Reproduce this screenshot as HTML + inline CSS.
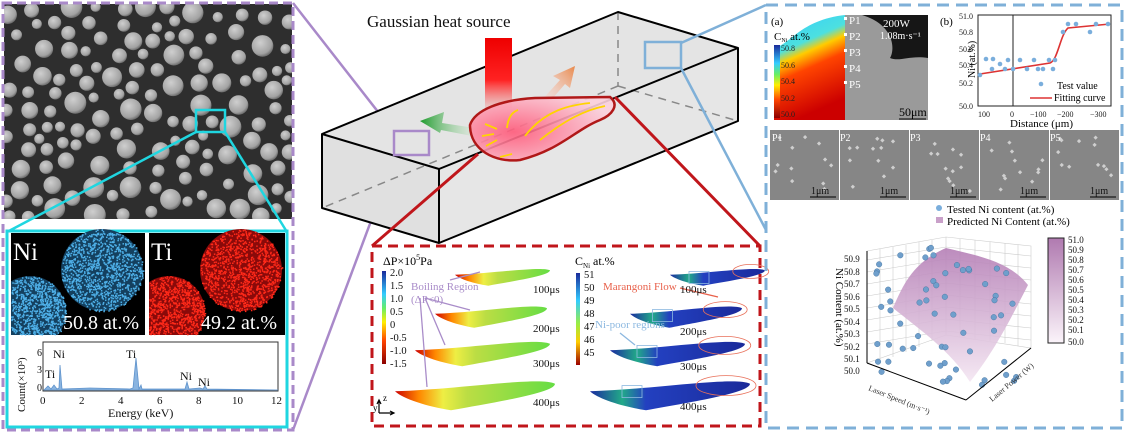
<!DOCTYPE html>
<html><head><meta charset="utf-8"><style>
html,body{margin:0;padding:0;background:#fff;width:1126px;height:433px;overflow:hidden}
svg text{font-family:"Liberation Serif",serif}
</style></head><body>
<svg id="s" width="1126" height="433" viewBox="0 0 1126 433" xmlns="http://www.w3.org/2000/svg">
<defs>
<radialGradient id="sph" cx="40%" cy="35%" r="65%"><stop offset="0" stop-color="#cfcfcf"/><stop offset="0.8" stop-color="#a2a2a2"/><stop offset="1" stop-color="#707070"/></radialGradient>
<linearGradient id="beam" x1="0" y1="0" x2="0" y2="1"><stop offset="0" stop-color="#e00"/><stop offset="0.6" stop-color="#f22"/><stop offset="1" stop-color="#f66" stop-opacity="0.2"/></linearGradient>
<radialGradient id="pool" cx="30%" cy="55%" r="70%"><stop offset="0" stop-color="#ff5a7a"/><stop offset="1" stop-color="#fbd0dc"/></radialGradient>
<linearGradient id="ga" x1="1" y1="0" x2="0" y2="0"><stop offset="0" stop-color="#cfe8cf" stop-opacity="0.3"/><stop offset="1" stop-color="#1c9a2a"/></linearGradient>
<linearGradient id="oa" x1="0" y1="1" x2="1" y2="0"><stop offset="0" stop-color="#fdd" stop-opacity="0.2"/><stop offset="1" stop-color="#e8884a"/></linearGradient>
<linearGradient id="jet" x1="0" y1="1" x2="0" y2="0"><stop offset="0" stop-color="#8b0000"/><stop offset="0.25" stop-color="#f40"/><stop offset="0.45" stop-color="#fe0"/><stop offset="0.6" stop-color="#6e6"/><stop offset="0.75" stop-color="#3cf"/><stop offset="1" stop-color="#1a2a9a"/></linearGradient>
<linearGradient id="jet2" x1="0" y1="0" x2="0" y2="1"><stop offset="0" stop-color="#1a2a9a"/><stop offset="0.3" stop-color="#3cf"/><stop offset="0.55" stop-color="#9e4"/><stop offset="0.75" stop-color="#fc0"/><stop offset="1" stop-color="#9b0000"/></linearGradient>
<linearGradient id="simL" x1="0" y1="0" x2="1" y2="0"><stop offset="0" stop-color="#c00"/><stop offset="0.15" stop-color="#f80"/><stop offset="0.3" stop-color="#ee4"/><stop offset="0.45" stop-color="#bd4"/><stop offset="1" stop-color="#6d4"/></linearGradient>
<linearGradient id="simR" x1="0" y1="0" x2="1" y2="0"><stop offset="0" stop-color="#1a2aa0"/><stop offset="0.2" stop-color="#2a8"/><stop offset="0.35" stop-color="#2340c0"/><stop offset="1" stop-color="#1a2a9a"/></linearGradient>
<linearGradient id="cmapA" x1="0" y1="0" x2="0.3" y2="1"><stop offset="0" stop-color="#3cf"/><stop offset="0.35" stop-color="#4ce0e0"/><stop offset="0.45" stop-color="#fc0"/><stop offset="0.6" stop-color="#f40"/><stop offset="1" stop-color="#c00"/></linearGradient>
<linearGradient id="pur" x1="0" y1="1" x2="0" y2="0"><stop offset="0" stop-color="#fbf4fa"/><stop offset="1" stop-color="#b07ab0"/></linearGradient>
<linearGradient id="surf" x1="0" y1="0" x2="0" y2="1"><stop offset="0" stop-color="#b57fb6"/><stop offset="1" stop-color="#f4e6f2"/></linearGradient>
</defs>

<!-- LEFT PANEL -->
<rect x="4" y="4" width="288" height="215" fill="#2e2e2e"/>
<g id="spheres"></g>
<rect x="196" y="110" width="29" height="22" fill="none" stroke="#1fd6e0" stroke-width="2.5"/>
<line x1="196" y1="132" x2="7" y2="232" stroke="#1fd6e0" stroke-width="2.5"/>
<line x1="225" y1="132" x2="287" y2="232" stroke="#1fd6e0" stroke-width="2.5"/>
<rect x="7" y="231" width="280" height="196" fill="#fff" stroke="#1fd6e0" stroke-width="3"/>
<rect x="11" y="233" width="134" height="102" fill="#000"/>
<rect x="149" y="233" width="136" height="102" fill="#000"/>
<g id="maps"></g>
<text x="13" y="260" font-size="25" fill="#fff">Ni</text>
<text x="151" y="260" font-size="25" fill="#fff">Ti</text>
<text x="63" y="329" font-size="20" fill="#fff">50.8 at.%</text>
<text x="201" y="329" font-size="20" fill="#fff">49.2 at.%</text>
<rect x="43" y="342" width="235" height="49" fill="#fff" stroke="#333" stroke-width="1"/>
<path d="M44,390 L48,386 L51,389 L54,385 L57,389 L59,388 L60,365 L62,389 L90,388 L130,389 L133,388 L136,358 L139,389 L141,385 L142,389 L185,389 L187,382 L189,389 L200,388 L203,389 L205,386 L207,389 L278,390 Z" fill="#8ab4e0" stroke="#5f93cc" stroke-width="0.8"/>
<g font-size="12" fill="#111">
<text x="53" y="358">Ni</text><text x="126" y="358">Ti</text><text x="45" y="378">Ti</text><text x="180" y="380">Ni</text><text x="198" y="386">Ni</text>
<text x="37" y="356" font-size="10">6</text><text x="37" y="373" font-size="10">3</text><text x="37" y="391" font-size="10">0</text>
<text x="40" y="404" font-size="11">0</text><text x="79" y="404" font-size="11">2</text><text x="118" y="404" font-size="11">4</text><text x="157" y="404" font-size="11">6</text><text x="196" y="404" font-size="11">8</text><text x="232" y="404" font-size="11">10</text><text x="271" y="404" font-size="11">12</text>
<text x="108" y="417" font-size="12">Energy (keV)</text>
<text transform="translate(25,412) rotate(-90)" font-size="11">Count(×10³)</text>
</g>
<rect x="3" y="3" width="290" height="427" fill="none" stroke="#a989c9" stroke-width="3" stroke-dasharray="9,5"/>

<line x1="293" y1="3" x2="393" y2="131" stroke="#a989c9" stroke-width="2.5"/>
<line x1="396" y1="154" x2="293" y2="430" stroke="#a989c9" stroke-width="2.5"/>

<!-- BLOCK -->
<polygon points="322,134 618,12 738,48 439,169" fill="#e4e4e4"/>
<polygon points="322,134 439,169 439,243 322,208" fill="#e0e0e0"/>
<polygon points="439,169 738,48 738,121 439,243" fill="#e6e6e6"/>
<g stroke="#888" stroke-width="1.5" stroke-dasharray="8,6" fill="none">
<line x1="618" y1="12" x2="618" y2="86"/><line x1="618" y1="86" x2="738" y2="121"/><line x1="618" y1="86" x2="322" y2="208"/>
</g>
<g stroke="#000" stroke-width="2" fill="none" stroke-linejoin="round">
<polygon points="322,134 618,12 738,48 439,169"/>
<polyline points="322,134 322,208 439,243 738,121 738,48"/>
<line x1="439" y1="169" x2="439" y2="243"/>
</g>
<text x="367" y="27" font-size="17" fill="#111">Gaussian heat source</text>
<rect x="485" y="38" width="27" height="70" fill="url(#beam)"/>
<path d="M475,128 L442,123 L444,112 L420,121 L440,133 L441,130 L472,136 Z" fill="url(#ga)"/>
<path d="M540,102 L560,80 L553,76 L575,66 L570,88 L565,84 L546,106 Z" fill="url(#oa)"/>
<path d="M470,125 C475,110 500,100 535,98 L610,97 C620,105 612,115 600,120 C575,130 560,150 520,160 C495,163 470,150 470,125 Z" fill="url(#pool)" fill-opacity="0.9" stroke="#b01818" stroke-width="2.5"/>
<g stroke="#ffd400" stroke-width="1.8" fill="none">
<path d="M525,136 C545,110 570,105 590,103"/><path d="M540,140 C565,120 585,110 605,106"/><path d="M507,128 C508,118 512,112 518,110"/>
<path d="M485,124 L497,129"/><path d="M482,136 L494,134"/><path d="M486,146 L497,140"/><path d="M500,157 L512,154"/>
</g>
<rect x="394" y="131" width="35" height="24" fill="none" stroke="#a989c9" stroke-width="2.5"/>
<rect x="645" y="42" width="36" height="26" fill="none" stroke="#7fb0d8" stroke-width="2.5"/>
<line x1="681" y1="43" x2="766" y2="5" stroke="#7fb0d8" stroke-width="2.5"/>
<line x1="681" y1="68" x2="766" y2="230" stroke="#7fb0d8" stroke-width="2.5"/>
<line x1="478" y1="154" x2="372" y2="246" stroke="#c0161b" stroke-width="3"/>
<line x1="615" y1="97" x2="760" y2="246" stroke="#c0161b" stroke-width="3"/>

<!-- RED BOX -->
<rect x="372" y="246" width="388" height="180" fill="#fff" stroke="#c0161b" stroke-width="3" stroke-dasharray="10,6"/>
<text x="383" y="265" font-size="12">ΔP×10<tspan font-size="8" dy="-5">5</tspan><tspan dy="5">Pa</tspan></text>
<rect x="382" y="271" width="4" height="93" fill="url(#jet)"/>
<g font-size="10.5" fill="#111"><text x="390" y="276">2.0</text><text x="390" y="289">1.5</text><text x="390" y="302">1.0</text><text x="390" y="315">0.5</text><text x="390" y="328">0</text><text x="390" y="341">-0.5</text><text x="390" y="354">-1.0</text><text x="390" y="367">-1.5</text></g>
<text x="411" y="290" font-size="11" fill="#a98cc9">Boiling Region</text>
<text x="411" y="303" font-size="11" fill="#a98cc9">(ΔP&lt;0)</text>
<g id="simsL"></g>
<g font-size="11" fill="#111"><text x="533" y="293">100μs</text><text x="533" y="332">200μs</text><text x="533" y="367">300μs</text><text x="533" y="406">400μs</text>
<text x="680" y="293">100μs</text><text x="680" y="335">200μs</text><text x="680" y="370">300μs</text><text x="680" y="410">400μs</text></g>
<path d="M379,413 L394,413 M379,413 L379,400 M390,411 L394,413 L390,415 M377,404 L379,400 L381,404" stroke="#000" stroke-width="1.2" fill="none"/>
<text x="373" y="411" font-size="9">y</text><text x="383" y="401" font-size="9">z</text>
<text x="575" y="265" font-size="12">C<tspan font-size="7" dy="3">Ni</tspan><tspan dy="-3"> at.%</tspan></text>
<rect x="576" y="273" width="4" height="92" fill="url(#jet2)"/>
<g font-size="10.5" fill="#111"><text x="584" y="278">51</text><text x="584" y="291">50</text><text x="584" y="304">49</text><text x="584" y="317">48</text><text x="584" y="330">47</text><text x="584" y="343">46</text><text x="584" y="356">45</text></g>
<text x="603" y="290" font-size="11" fill="#e8604a">Marangoni Flow</text>
<text x="595" y="328" font-size="11" fill="#8cb8e0">Ni-poor regions</text>

<!-- RIGHT PANEL -->
<path d="M774,120 L774,48 C790,45 800,20 845,15 L845,120 Z" fill="url(#cmapA)"/>
<rect x="845" y="15" width="83" height="105" fill="#9a9a9a"/>
<path d="M862,15 C895,25 895,50 890,58 C900,62 910,55 928,58 L928,15 Z" fill="#161616"/>
<text x="883" y="27" font-size="11" fill="#fff">200W</text>
<text x="880" y="39" font-size="10" fill="#fff">1.08m·s⁻¹</text>
<g font-size="11" fill="#fff"><text x="849" y="24">P1</text><text x="849" y="40">P2</text><text x="849" y="56">P3</text><text x="849" y="72">P4</text><text x="849" y="88">P5</text></g>
<g fill="#fff"><rect x="844" y="17" width="3" height="3"/><rect x="844" y="33" width="3" height="3"/><rect x="844" y="49" width="3" height="3"/><rect x="844" y="65" width="3" height="3"/><rect x="844" y="81" width="3" height="3"/></g>
<rect x="774" y="45" width="6" height="73" fill="url(#jet)"/>
<text x="771" y="25" font-size="11">(a)</text>
<text x="774" y="40" font-size="11">C<tspan font-size="6" dy="2">Ni</tspan><tspan dy="-2"> at.%</tspan></text>
<g font-size="8" fill="#222"><text x="781" y="51">50.8</text><text x="781" y="68">50.6</text><text x="781" y="84">50.4</text><text x="781" y="101">50.2</text><text x="781" y="117">50.0</text></g>
<text x="899" y="116" font-size="12">50μm</text><line x1="899" y1="119" x2="926" y2="119" stroke="#000"/>
<text x="940" y="25" font-size="11">(b)</text>
<rect x="978" y="15" width="133" height="91" fill="#fff" stroke="#222"/>
<line x1="1013" y1="15" x2="1013" y2="106" stroke="#222"/>
<g font-size="8" fill="#222"><text x="959" y="19">51.0</text><text x="959" y="35">50.8</text><text x="959" y="52">50.6</text><text x="959" y="68">50.4</text><text x="959" y="86">50.2</text><text x="959" y="109">50.0</text>
<text x="978" y="117">100</text><text x="1010" y="117">0</text><text x="1030" y="117">−100</text><text x="1057" y="117">−200</text><text x="1090" y="117">−300</text></g>
<text x="1010" y="127" font-size="11">Distance (μm)</text>
<text transform="translate(975,78) rotate(-90)" font-size="10">Ni (at.%)</text>
<path d="M980,74 L1050,63 C1058,60 1060,35 1068,28 L1110,24" stroke="#d33" stroke-width="1.6" fill="none"/>
<g fill="#7aaedc"><circle cx="980" cy="75" r="2.3"/><circle cx="986" cy="59" r="2.3"/><circle cx="992" cy="69" r="2.3"/><circle cx="993" cy="59" r="2.3"/><circle cx="1000" cy="64" r="2.3"/><circle cx="1005" cy="69" r="2.3"/><circle cx="1008" cy="60" r="2.3"/><circle cx="1013" cy="69" r="2.3"/><circle cx="1020" cy="60" r="2.3"/><circle cx="1027" cy="69" r="2.3"/><circle cx="1034" cy="60" r="2.3"/><circle cx="1038" cy="69" r="2.3"/><circle cx="1043" cy="69" r="2.3"/><circle cx="1049" cy="60" r="2.3"/><circle cx="1053" cy="69" r="2.3"/><circle cx="1055" cy="60" r="2.3"/><circle cx="1063" cy="32" r="2.3"/><circle cx="1068" cy="24" r="2.3"/><circle cx="1076" cy="24" r="2.3"/><circle cx="1090" cy="32" r="2.3"/><circle cx="1096" cy="24" r="2.3"/><circle cx="1108" cy="24" r="2.3"/>
<circle cx="1041" cy="84" r="2.3"/></g>
<text x="1057" y="89" font-size="10">Test value</text>
<line x1="1030" y1="98" x2="1052" y2="98" stroke="#d33" stroke-width="1.6"/>
<text x="1054" y="101" font-size="10">Fitting curve</text>
<g id="thumbs"></g>
<g font-size="10" fill="#fff"><text x="772" y="141">P1</text><text x="840" y="141">P2</text><text x="910" y="141">P3</text><text x="980" y="141">P4</text><text x="1050" y="141">P5</text></g>
<g font-size="10" fill="#111"><text x="811" y="194">1μm</text><text x="880" y="194">1μm</text><text x="950" y="194">1μm</text><text x="1020" y="194">1μm</text><text x="1090" y="194">1μm</text></g>
<circle cx="939" cy="208" r="3" fill="#7aaedc"/>
<text x="947" y="213" font-size="11">Tested Ni content (at.%)</text>
<rect x="936" y="217" width="7" height="6" fill="#c9a0c9"/>
<text x="947" y="225" font-size="11">Predicted Ni Content (at.%)</text>
<g stroke="#ccc" stroke-width="0.6" fill="none">
<polygon points="867,251 946,237 1031,246 1031,348 946,335 867,363"/>
<line x1="946" y1="237" x2="946" y2="335"/>
<path d="M867,260 L946,247 L1031,256 M867,272 L946,259 L1031,268 M867,284 L946,271 L1031,280 M867,296 L946,283 L1031,292 M867,308 L946,295 L1031,304 M867,320 L946,307 L1031,316 M867,332 L946,319 L1031,328 M867,344 L946,331 L1031,340"/>
<path d="M880,249 L880,362 M893,247 L893,357 M906,245 L906,352 M919,242 L919,347 M932,240 L932,341 M960,239 L960,337 M975,240 L975,339 M990,242 L990,341 M1005,243 L1005,343 M1018,245 L1018,346"/>
<path d="M867,363 L966,400 L1031,348"/>
</g>
<path d="M893,308 C905,280 915,262 946,248 C980,256 1010,262 1028,285 C1010,320 995,350 970,382 C950,350 920,330 893,308 Z" fill="url(#surf)" fill-opacity="0.9"/>
<g id="dots3d"></g>
<g stroke="#000" stroke-width="1"><line x1="867" y1="251" x2="867" y2="363"/><line x1="867" y1="363" x2="966" y2="400"/><line x1="966" y1="400" x2="1031" y2="348"/></g>
<g font-size="9" fill="#111"><text x="844" y="262">50.9</text><text x="844" y="275">50.8</text><text x="844" y="287">50.7</text><text x="844" y="300">50.6</text><text x="844" y="312">50.5</text><text x="844" y="325">50.4</text><text x="844" y="337">50.3</text><text x="844" y="350">50.2</text><text x="844" y="362">50.1</text><text x="844" y="374">50.0</text></g>
<text transform="translate(836,268) rotate(90)" font-size="11">Ni Content (at.%)</text>
<text transform="translate(868,390) rotate(22)" font-size="8" fill="#333">Laser Speed (m·s⁻¹)</text>
<text transform="translate(992,402) rotate(-40)" font-size="8" fill="#333">Laser Power (W)</text>
<rect x="1048" y="238" width="16" height="105" fill="url(#pur)" stroke="#222"/>
<g font-size="9" fill="#111"><text x="1068" y="243">51.0</text><text x="1068" y="253">50.9</text><text x="1068" y="263">50.8</text><text x="1068" y="273">50.7</text><text x="1068" y="283">50.6</text><text x="1068" y="293">50.5</text><text x="1068" y="303">50.4</text><text x="1068" y="313">50.3</text><text x="1068" y="323">50.2</text><text x="1068" y="333">50.1</text><text x="1068" y="345">50.0</text></g>
<rect x="766" y="5" width="356" height="423" fill="none" stroke="#7fb0d8" stroke-width="3" stroke-dasharray="12,7"/>
</svg>
<script>
var N="http://www.w3.org/2000/svg";
function el(p,t,a){var e=document.createElementNS(N,t);for(var k in a)e.setAttribute(k,a[k]);p.appendChild(e);return e;}
var seed=7;function r(){seed=(seed*16807)%2147483647;return seed/2147483647;}
var svg=document.getElementById('s');
var g=document.getElementById('spheres');
var pts=[];
for(var i=0;i<4000&&pts.length<140;i++){var x=6+r()*285,y=6+r()*212,rad=5+r()*6;var ok=true;for(var j=0;j<pts.length;j++){var d=Math.hypot(pts[j][0]-x,pts[j][1]-y);if(d<pts[j][2]+rad+1.5){ok=false;break;}}if(ok){pts.push([x,y,rad]);}}
var cp=el(svg,'clipPath',{id:'cp'});el(cp,'rect',{x:4,y:4,width:288,height:215});
g.setAttribute('clip-path','url(#cp)');
pts.forEach(function(p){el(g,'circle',{cx:p[0],cy:p[1],r:p[2],fill:'url(#sph)'});});
var cn=el(svg,'clipPath',{id:'cn'});el(cn,'rect',{x:11,y:233,width:134,height:102});
var ct=el(svg,'clipPath',{id:'ct'});el(ct,'rect',{x:149,y:233,width:136,height:102});
var m=document.getElementById('maps');
el(m,'circle',{cx:102,cy:270,r:41,fill:'#14405f'});el(m,'circle',{cx:30,cy:312,r:36,fill:'#14405f','clip-path':'url(#cn)'});
el(m,'circle',{cx:241,cy:270,r:41,fill:'#8a0a0a'});el(m,'circle',{cx:169,cy:312,r:36,fill:'#8a0a0a','clip-path':'url(#ct)'});
function blob(cx,cy,R,col,x0,x1){for(var i=0;i<1100;i++){var a=r()*6.283,d=Math.sqrt(r())*R,x=cx+Math.cos(a)*d,y=cy+Math.sin(a)*d;if(x<x0||x>x1-1||y>334)continue;el(m,'rect',{x:x,y:y,width:1.5,height:1.5,fill:col});}}
blob(102,270,41,'#4fb0e8',11,145);blob(30,312,36,'#4fb0e8',11,145);blob(241,270,41,'#ff2a1a',149,285);blob(169,312,36,'#ff2a1a',149,285);
var sl=document.getElementById('simsL');
var L=[[455,278,95,0.55],[435,318,112,0.7],[415,355,135,0.8],[395,397,160,0.95]];
function shp(x,y,w,s,f){el(sl,'path',{d:'M'+x+','+(y-6*s)+' C'+(x+w*0.4)+','+(y-8*s)+' '+(x+w*0.9)+','+(y-22*s)+' '+(x+w)+','+(y-14*s)+' C'+(x+w)+','+(y-4*s)+' '+(x+w*0.6)+','+(y+6*s)+' '+(x+w*0.35)+','+(y+14*s)+' C'+(x+w*0.2)+','+(y+10*s)+' '+(x+w*0.05)+','+(y+2*s)+' '+x+','+(y-6*s)+' Z',fill:f});}
L.forEach(function(a,i){var x=a[0],y=a[1],w=a[2],s=a[3];shp(x,y,w,s,'url(#simL)');
var x2=x+195+(i==0?20:0);shp(x2,y,w,s,'url(#simR)');
el(sl,'ellipse',{cx:x2+w*0.85,cy:y-12*s,rx:18+i*4,ry:7+i,fill:'none',stroke:'#e8705a','stroke-width':0.8});
el(sl,'rect',{x:x2+w*0.2,y:y-12*s,width:20,height:12,fill:'none',stroke:'#8cb8e0','stroke-width':0.8});});
[[450,280,480,272],[425,298,470,310],[425,298,445,345],[420,298,427,387]].forEach(function(a){el(sl,'line',{x1:a[0],y1:a[1],x2:a[2],y2:a[3],stroke:'#a98cc9','stroke-width':1.3});});
el(sl,'line',{x1:680,y1:288,x2:718,y2:297,stroke:'#e8604a','stroke-width':1.3});
el(sl,'line',{x1:620,y1:333,x2:635,y2:345,stroke:'#8cb8e0','stroke-width':1.3});
var th=document.getElementById('thumbs');
for(var k=0;k<5;k++){var tx=770+k*70;el(th,'rect',{x:tx,y:130,width:69,height:70,fill:'#868686'});
for(var q=0;q<12;q++){var px=tx+5+r()*58,py=135+r()*55;el(th,'rect',{x:px,y:py,width:3,height:3,fill:'#cfcfcf',transform:'rotate(45 '+px+' '+py+')'});}
el(th,'line',{x1:tx+40,y1:197,x2:tx+66,y2:197,stroke:'#000'});}
var d3=document.getElementById('dots3d');
for(var q=0;q<60;q++){var x=875+r()*150,y=245+r()*140;el(d3,'circle',{cx:x,cy:y,r:2.8,fill:'#6f9fcc',stroke:'#3d6f9a','stroke-width':0.4});}
</script>
</body></html>
